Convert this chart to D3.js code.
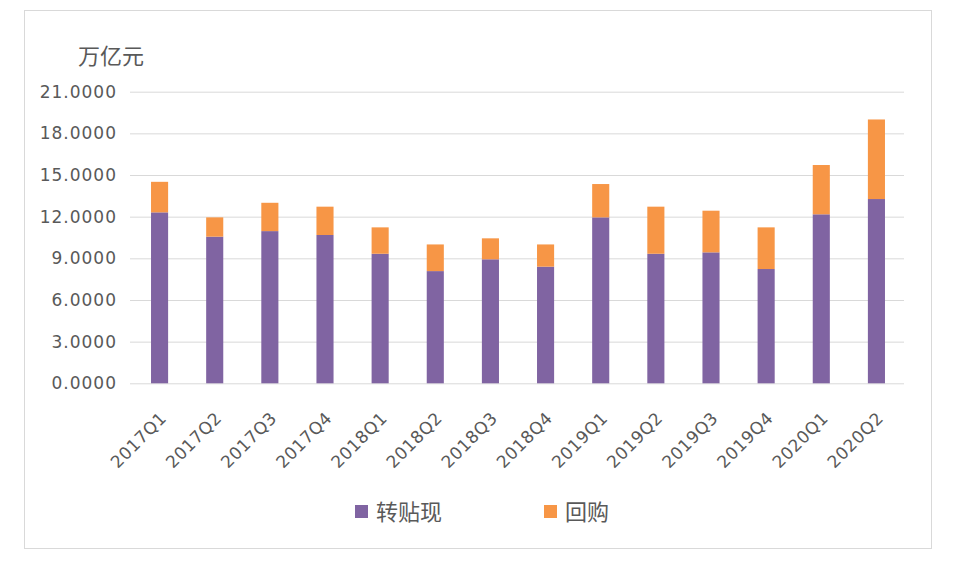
<!DOCTYPE html>
<html>
<head>
<meta charset="utf-8">
<script src="https://cdn.jsdelivr.net/npm/d3@7"></script>
<style>
  body { margin: 0; background: #fff; }
  text { font-family: "DejaVu Sans", "Noto Sans CJK SC", sans-serif; fill: #595959; }
</style>
</head>
<body>
<div id="chart"></div>
<script>
// quarters on the x axis
var quarters = ["2017Q1","2017Q2","2017Q3","2017Q4","2018Q1","2018Q2","2018Q3","2018Q4",
                "2019Q1","2019Q2","2019Q3","2019Q4","2020Q1","2020Q2"];
// 转贴现 (bottom, purple)
var discount = [12.31, 10.56, 10.96, 10.68, 9.33, 8.08, 8.93, 8.40, 11.95, 9.33, 9.43, 8.23, 12.17, 13.27];
// 回购 (top, orange)
var repo = [2.20, 1.39, 2.04, 2.04, 1.90, 1.92, 1.51, 1.60, 2.40, 3.39, 3.00, 3.00, 3.55, 5.73];
var yTicks = [0, 3, 6, 9, 12, 15, 18, 21];
var seriesNames = ["转贴现", "回购"];
var colors = ["#8064A2", "#F79646"];

var svgWidth = 965, svgHeight = 563;
var plot = { left: 132, right: 904, top: 91.7, bottom: 383.3 };

var svg = d3.select("#chart").append("svg")
    .attr("width", svgWidth)
    .attr("height", svgHeight);

// outer frame
svg.append("rect")
    .attr("x", 24.5).attr("y", 10.5)
    .attr("width", 907).attr("height", 538)
    .attr("fill", "none")
    .attr("stroke", "#d9d9d9");

var x = d3.scaleBand()
    .domain(quarters)
    .range([plot.left, plot.right])
    .paddingInner(0.69)
    .paddingOuter(0.345);

var y = d3.scaleLinear()
    .domain([0, 21])
    .range([plot.bottom, plot.top]);

// gridlines + y labels
var yAxis = d3.axisLeft(y)
    .tickValues(yTicks)
    .tickSize(-(plot.right - plot.left + 2))
    .tickPadding(13)
    .tickFormat(d3.format(".4f"));

var yg = svg.append("g")
    .attr("transform", `translate(${plot.left - 2},0)`)
    .call(yAxis);
yg.select(".domain").remove();
yg.selectAll("line").attr("stroke", "#d9d9d9");
yg.selectAll("text")
    .style("font-size", "17px")
    .style("letter-spacing", "1px")
    .attr("fill", "#595959");

// stacked data
var table = quarters.map(function(q, i) {
    return { q: q, discount: discount[i], repo: repo[i] };
});
var stack = d3.stack().keys(["discount", "repo"])(table);

svg.append("g").selectAll("g")
    .data(stack)
    .enter().append("g")
    .attr("fill", (d, i) => colors[i])
    .selectAll("rect")
    .data(d => d)
    .enter().append("rect")
    .attr("x", d => x(d.data.q))
    .attr("width", x.bandwidth())
    .attr("y", d => y(d[1]))
    .attr("height", d => y(d[0]) - y(d[1]));

// x labels, rotated
var xAxis = d3.axisBottom(x).tickSize(0).tickPadding(0);
var xg = svg.append("g")
    .attr("transform", `translate(0,${plot.bottom})`)
    .call(xAxis);
xg.select(".domain").remove();
xg.selectAll("text")
    .style("font-size", "17px")
    .style("letter-spacing", "0.5px")
    .attr("fill", "#595959")
    .attr("text-anchor", "end")
    .attr("dy", 0)
    .attr("transform", "translate(8,36) rotate(-45)");

// unit label
svg.append("text")
    .attr("x", 78)
    .attr("y", 64)
    .style("font-size", "22px")
    .text("万亿元");

// legend
var legendX = [355, 544];
var legend = svg.append("g").selectAll("g")
    .data(seriesNames)
    .enter().append("g")
    .attr("transform", (d, i) => `translate(${legendX[i]},505)`);
legend.append("rect")
    .attr("width", 13).attr("height", 13)
    .attr("fill", (d, i) => colors[i]);
legend.append("text")
    .attr("x", 21)
    .attr("y", 15)
    .style("font-size", "22px")
    .text(d => d);
</script>
</body>
</html>
